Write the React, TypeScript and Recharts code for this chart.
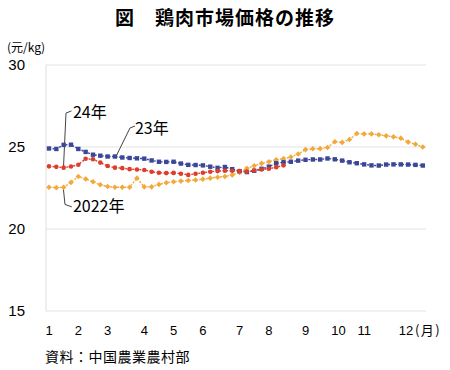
import React from 'react';
import { LineChart, Line, XAxis, YAxis, CartesianGrid, ReferenceLine, ReferenceDot } from 'recharts';

const price2022 = [
  22.55, 22.52, 22.55, 22.84, 23.2, 23.05, 22.88, 22.7, 22.59, 22.55, 22.55, 22.55, 23.1,
  22.57, 22.57, 22.72, 22.82, 22.88, 22.92, 22.96, 22.99, 23.04, 23.1, 23.16, 23.2, 23.3,
  23.45, 23.7, 23.85, 24.0, 24.1, 24.22, 24.29, 24.39, 24.57, 24.84, 24.89, 24.9, 24.97,
  25.32, 25.28, 25.46, 25.82, 25.8, 25.8, 25.75, 25.68, 25.62, 25.54, 25.3, 25.17, 25.0,
];
const price2023 = [
  24.91, 24.88, 25.13, 25.14, 24.88, 24.7, 24.53, 24.47, 24.42, 24.42, 24.36, 24.33, 24.31,
  24.29, 24.18, 24.1, 24.09, 24.1, 23.99, 23.91, 23.9, 23.88, 23.8, 23.73, 23.78, 23.65,
  23.53, 23.47, 23.55, 23.67, 23.8, 24.01, 24.07, 24.1, 24.17, 24.22, 24.24, 24.24, 24.3,
  24.25, 24.17, 24.07, 24.01, 23.94, 23.88, 23.87, 23.93, 23.94, 23.94, 23.93, 23.91, 23.87,
];
const price2024 = [
  23.82, 23.79, 23.74, 23.81, 23.92, 24.28, 24.25, 24.05, 23.84, 23.74, 23.71, 23.65, 23.63,
  23.6, 23.49, 23.43, 23.41, 23.42, 23.37, 23.3, 23.37, 23.43, 23.49, 23.53, 23.55, 23.55,
  23.53, 23.5, 23.57, 23.63, 23.67, 23.77, 23.88,
];
const monthTicks = [0, 4, 8, 13, 17, 21, 26, 30, 35, 39.5, 43, 48.7];
const monthLabels = ['1', '2', '3', '4', '5', '6', '7', '8', '9', '10', '11', '12'];
const yTicks = [15, 20, 25, 30];

const BLUE = '#3b4699';
const RED = '#dc3d2c';
const ORANGE = '#f2a93b';
const FONT = '"Liberation Sans", "Noto Sans CJK JP", sans-serif';
const CJK = '"Noto Sans CJK JP", "Liberation Sans", sans-serif';

const data = price2022.map((v, i) => ({
  w: i,
  y2022: v,
  y2023: price2023[i],
  y2024: i < price2024.length ? price2024[i] : null,
}));

const squareDot = (p: any) => {
  if (p.cx == null || p.cy == null || p.value == null) return <g key={p.index} />;
  return <rect key={p.index} x={p.cx - 2.2} y={p.cy - 2.2} width={4.4} height={4.4} fill={BLUE} />;
};
const circleDot = (p: any) => {
  if (p.cx == null || p.cy == null || p.value == null) return <g key={p.index} />;
  return <circle key={p.index} cx={p.cx} cy={p.cy} r={2.3} fill={RED} />;
};
const diamondDot = (p: any) => {
  if (p.cx == null || p.cy == null || p.value == null) return <g key={p.index} />;
  const { cx, cy } = p;
  const d = 2.8;
  return (
    <path
      key={p.index}
      d={`M${cx},${cy - d} L${cx + d},${cy} L${cx},${cy + d} L${cx - d},${cy} Z`}
      fill={ORANGE}
    />
  );
};

const MonthTick = (props: any) => {
  const { x, y, payload, index } = props;
  const i = typeof index === 'number' ? index : monthTicks.indexOf(payload.value);
  const label = monthLabels[i] ?? '';
  return (
    <g>
      <text x={x} y={y} dy="0.71em" textAnchor="middle" fontSize={13} fill="#000" fontFamily={FONT}>
        {label}
      </text>
      {i === monthLabels.length - 1 ? (
        <text x={x + 9} y={y} dy="0.71em" textAnchor="start" fontSize={13} fill="#000" fontFamily={CJK} letterSpacing={1.5}>
          (月)
        </text>
      ) : null}
    </g>
  );
};

const textLabel = (txt: string) => (p: any) => (
  <text x={p.viewBox.x} y={p.viewBox.y} dy="0.36em" fontSize={16} fill="#000" fontFamily={CJK}>
    {txt}
  </text>
);

const LEADER = '#444';

export default function App() {
  return (
    <div style={{ position: 'absolute', left: 0, top: 0, width: 450, height: 370, background: '#fff' }}>
      <div
        style={{
          position: 'absolute', left: 0, top: 5, width: 450, textAlign: 'center',
          fontFamily: CJK, fontWeight: 'bold', fontSize: 19, lineHeight: '24px', letterSpacing: 1, color: '#000',
        }}
      >
        図　鶏肉市場価格の推移
      </div>
      <div
        style={{
          position: 'absolute', left: 7, top: 38, fontFamily: CJK, fontSize: 12, lineHeight: '18px', color: '#000',
        }}
      >
        (元/kg)
      </div>
      <div
        style={{
          position: 'absolute', left: 45, top: 346, fontFamily: CJK, fontSize: 14, lineHeight: '20px',
          letterSpacing: 0.5, color: '#000',
        }}
      >
        資料：中国農業農村部
      </div>
      <LineChart
        width={450}
        height={370}
        data={data}
        margin={{ top: 65, right: 24, bottom: 29, left: 0 }}
        style={{ fontFamily: FONT }}
      >
        <CartesianGrid horizontal vertical={false} stroke="#e3e3e3" />
        <XAxis
          dataKey="w"
          type="number"
          domain={[-0.41, 51.44]}
          allowDataOverflow
          ticks={monthTicks}
          interval={0}
          axisLine={false}
          tickLine={false}
          tickSize={0}
          tickMargin={15}
          tick={<MonthTick />}
        />
        <YAxis
          domain={[15, 30]}
          ticks={yTicks}
          width={46}
          axisLine={{ stroke: '#e0e0e0' }}
          tickLine={false}
          tickSize={0}
          tickMargin={21}
          tick={{ fontSize: 15, fill: '#000', fontFamily: FONT }}
        />
        <Line
          dataKey="y2022"
          stroke={ORANGE}
          strokeWidth={1.4}
          strokeDasharray="2 1.5"
          dot={diamondDot}
          activeDot={false}
          isAnimationActive={false}
        />
        <Line
          dataKey="y2023"
          stroke={BLUE}
          strokeWidth={1.4}
          strokeDasharray="2 1.5"
          dot={squareDot}
          activeDot={false}
          isAnimationActive={false}
        />
        <Line
          dataKey="y2024"
          stroke={RED}
          strokeWidth={1.4}
          strokeDasharray="2 1.5"
          dot={circleDot}
          activeDot={false}
          isAnimationActive={false}
        />
        <ReferenceLine segment={[{ x: 3.07, y: 27.2 }, { x: 2.32, y: 27.07 }]} stroke={LEADER} strokeWidth={1} />
        <ReferenceLine segment={[{ x: 2.32, y: 27.07 }, { x: 1.98, y: 23.8 }]} stroke={LEADER} strokeWidth={1} />
        <ReferenceLine segment={[{ x: 11.73, y: 26.28 }, { x: 11.05, y: 26.16 }]} stroke={LEADER} strokeWidth={1} />
        <ReferenceLine segment={[{ x: 11.05, y: 26.16 }, { x: 9.14, y: 24.42 }]} stroke={LEADER} strokeWidth={1} />
        <ReferenceLine segment={[{ x: 1.95, y: 22.51 }, { x: 2.18, y: 21.5 }]} stroke={LEADER} strokeWidth={1} />
        <ReferenceLine segment={[{ x: 2.18, y: 21.5 }, { x: 3.1, y: 21.35 }]} stroke={LEADER} strokeWidth={1} />
        <ReferenceDot x={3.27} y={27.1} r={0} fillOpacity={0} stroke="none" label={textLabel('24年')} />
        <ReferenceDot x={11.73} y={26.13} r={0} fillOpacity={0} stroke="none" label={textLabel('23年')} />
        <ReferenceDot x={3.27} y={21.37} r={0} fillOpacity={0} stroke="none" label={textLabel('2022年')} />
      </LineChart>
    </div>
  );
}
